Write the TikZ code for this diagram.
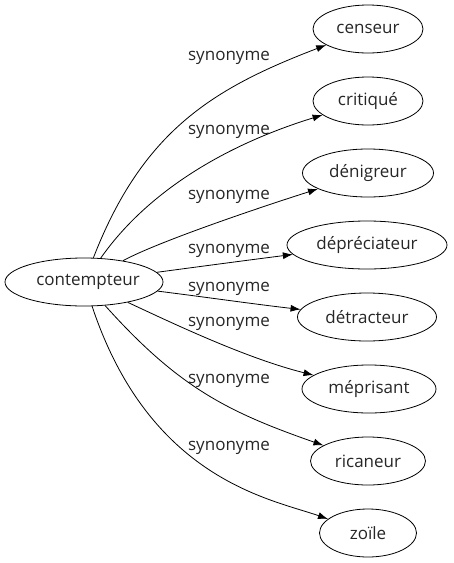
\documentclass[tikz,border=0pt]{standalone}
\usepackage{fontspec}
\setmainfont{Open Sans}
\usetikzlibrary{arrows.meta,shapes.geometric}
\tikzset{
  every node/.style={font=\fontsize{17pt}{19pt}\selectfont, text=black!85},
  word/.style={ellipse, draw=black, line width=0.8pt, inner sep=0pt, minimum height=48pt},
  lab/.style={anchor=base, inner sep=0pt},
  edge/.style={draw=black, line width=0.8pt, -{Latex[length=10pt,width=7pt]}}
}
\begin{document}
\begin{tikzpicture}[x=1pt,y=-1pt]
\useasboundingbox (0,0) rectangle (454,563);
\node[word, minimum width=158pt] (c) at (84,282) {\hspace{8pt}contempteur};
\node[word, minimum width=110pt] (t1) at (368,29) {censeur};
\node[word, minimum width=110pt] (t2) at (368,101) {critiqué};
\node[word, minimum width=131pt] (t3) at (368,173) {dénigreur};
\node[word, minimum width=160pt] (t4) at (367,245) {dépréciateur};
\node[word, minimum width=139pt] (t5) at (367,317) {détracteur};
\node[word, minimum width=134pt] (t6) at (369,389) {méprisant};
\node[word, minimum width=115pt] (t7) at (368,461) {ricaneur};
\node[word, minimum width=97pt] (t8) at (368,533) {zoïle};

\node[lab] (l1) at (229,60) {synonyme};
\node[lab] (l2) at (229,134) {synonyme};
\node[lab] (l3) at (229,199) {synonyme};
\node[lab] (l4) at (229,253) {synonyme};
\node[lab] (l5) at (229,291) {synonyme};
\node[lab] (l6) at (229,326) {synonyme};
\node[lab] (l7) at (229,383) {synonyme};
\node[lab] (l8) at (229,450) {synonyme};

\draw[edge] (c) .. controls (143,130) and (214,88) .. (t1);
\draw[edge] (c) .. controls (143.5,197) and (217,147.5) .. (t2);
\draw[edge] (c) .. controls (158,241.6) and (262.5,206.5) .. (t3);
\draw[edge] (c) .. controls (204,266) and (249,260) .. (t4);
\draw[edge] (c) .. controls (205,297) and (253,304) .. (t5);
\draw[edge] (c) .. controls (170,322) and (245,358) .. (t6);
\draw[edge] (c) .. controls (179,388) and (228,412) .. (t7);
\draw[edge] (c) .. controls (150,480) and (271,499) .. (t8);
\end{tikzpicture}
\end{document}
